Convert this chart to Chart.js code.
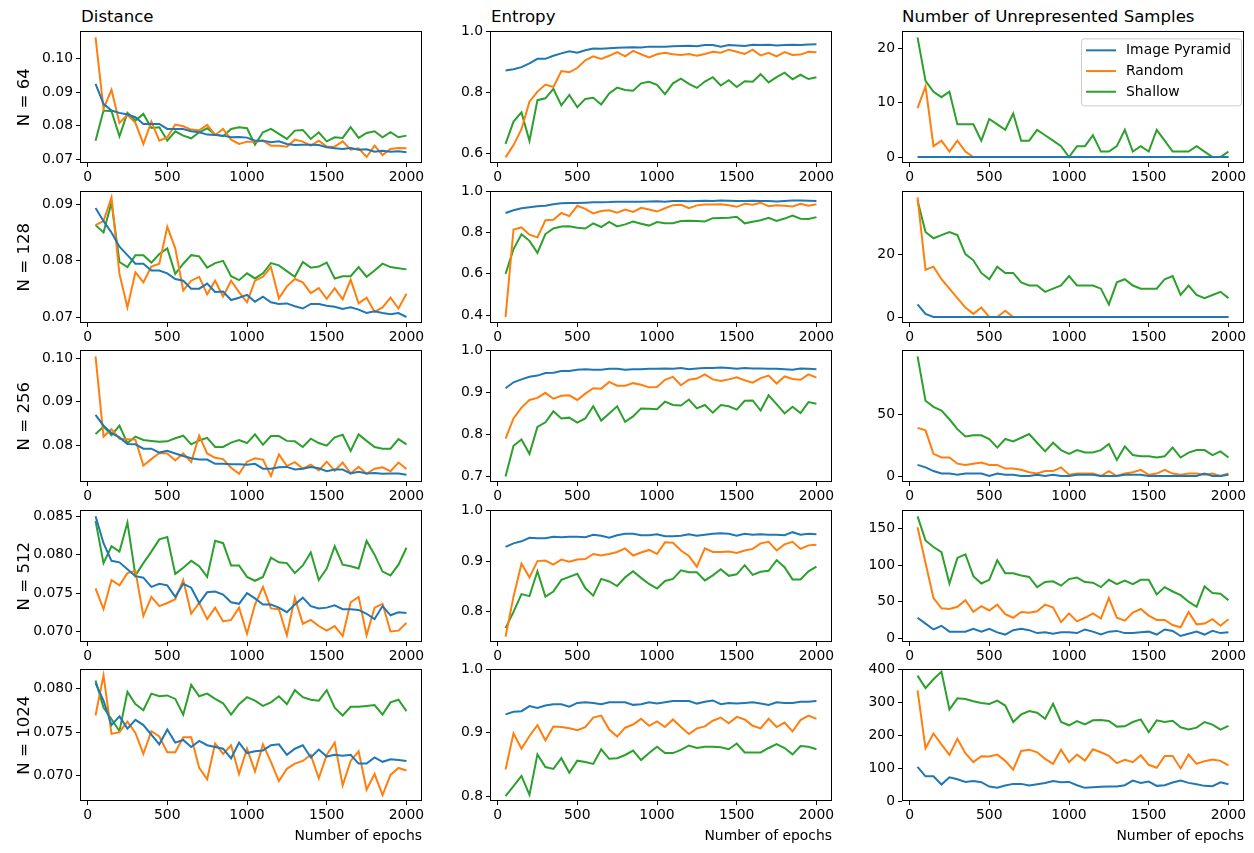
<!DOCTYPE html>
<html>
<head>
<meta charset="utf-8">
<script src="https://cdn.jsdelivr.net/npm/chart.js@4.4.1/dist/chart.umd.min.js"></script>
<style>
  body { margin: 0; background: #fff; overflow: hidden; width: 1254px; height: 853px; position: relative; font-family: 'DejaVu Sans', sans-serif; }
  canvas { position: absolute; }
  .coltitle { position: absolute; font-size: 16.6px; line-height: 16px; color: #000; white-space: nowrap; }
</style>
</head>
<body>
<div class="coltitle" style="left:81px;top:8.5px">Distance</div>
<div class="coltitle" style="left:491px;top:8.5px">Entropy</div>
<div class="coltitle" style="left:902px;top:8.5px">Number of Unrepresented Samples</div>
<script>
// epochs on the x axis
var epochs = [50, 100, 150, 200, 250, 300, 350, 400, 450, 500, 550, 600, 650, 700, 750, 800, 850, 900, 950, 1000,
  1050, 1100, 1150, 1200, 1250, 1300, 1350, 1400, 1450, 1500, 1550, 1600, 1650, 1700, 1750, 1800, 1850, 1900, 1950, 2000];
var xTicks = [0, 500, 1000, 1500, 2000];

var seriesNames = ['Image Pyramid', 'Random', 'Shallow'];
var seriesColors = ['#1f77b4', '#ff7f0e', '#2ca02c'];

// ---- Distance ----
var dist64_pyr = [0.0925,0.0865,0.0845,0.0838,0.0833,0.0825,0.0805,0.0805,0.0805,0.0790,0.0790,0.0790,0.0783,0.0780,0.0773,0.0772,0.0770,0.0765,0.0766,0.0764,0.0755,0.0755,0.0750,0.0753,0.0745,0.0742,0.0743,0.0743,0.0742,0.0735,0.0732,0.0730,0.0733,0.0728,0.0729,0.0722,0.0725,0.0722,0.0723,0.0720];
var dist64_rnd = [0.1064,0.0850,0.0907,0.0808,0.0832,0.0808,0.0745,0.0812,0.0755,0.0765,0.0803,0.0798,0.0788,0.0786,0.0802,0.0772,0.0790,0.0758,0.0745,0.0752,0.0752,0.0755,0.0740,0.0740,0.0737,0.0758,0.0752,0.0740,0.0755,0.0737,0.0737,0.0753,0.0728,0.0732,0.0706,0.0740,0.0712,0.0730,0.0733,0.0732];
var dist64_sha = [0.0755,0.0845,0.0843,0.0768,0.0838,0.0815,0.0835,0.0793,0.0795,0.0755,0.0783,0.0770,0.0762,0.0780,0.0792,0.0773,0.0768,0.0790,0.0795,0.0792,0.0743,0.0780,0.0790,0.0775,0.0760,0.0785,0.0787,0.0760,0.0780,0.0753,0.0765,0.0763,0.0795,0.0763,0.0778,0.0783,0.0765,0.0780,0.0765,0.0770];

var dist128_pyr = [0.0893,0.0870,0.0850,0.0825,0.0810,0.0795,0.0795,0.0783,0.0783,0.0778,0.0768,0.0765,0.0751,0.0751,0.0760,0.0745,0.0746,0.0731,0.0735,0.0740,0.0728,0.0737,0.0727,0.0724,0.0725,0.0720,0.0716,0.0724,0.0724,0.0721,0.0719,0.0715,0.0718,0.0714,0.0708,0.0711,0.0708,0.0706,0.0708,0.0701];
var dist128_rnd = [0.0863,0.0870,0.0912,0.0777,0.0718,0.0780,0.0762,0.0790,0.0795,0.0860,0.0822,0.0748,0.0765,0.0772,0.0741,0.0765,0.0737,0.0765,0.0745,0.0727,0.0765,0.0772,0.0789,0.0734,0.0755,0.0768,0.0762,0.0743,0.0752,0.0733,0.0752,0.0732,0.0767,0.0725,0.0735,0.0710,0.0718,0.0735,0.0716,0.0742];
var dist128_sha = [0.0863,0.0850,0.0903,0.0798,0.0789,0.0810,0.0810,0.0797,0.0812,0.0822,0.0777,0.0795,0.0810,0.0808,0.0788,0.0796,0.0800,0.0773,0.0766,0.0778,0.0769,0.0778,0.0796,0.0792,0.0782,0.0772,0.0798,0.0788,0.0790,0.0797,0.0769,0.0773,0.0773,0.0789,0.0772,0.0783,0.0795,0.0789,0.0787,0.0785];

var dist256_pyr = [0.0870,0.0845,0.0828,0.0818,0.0803,0.0802,0.0792,0.0792,0.0783,0.0787,0.0781,0.0775,0.0770,0.0767,0.0767,0.0757,0.0757,0.0756,0.0756,0.0755,0.0757,0.0746,0.0746,0.0749,0.0750,0.0744,0.0746,0.0750,0.0747,0.0740,0.0744,0.0744,0.0735,0.0739,0.0735,0.0736,0.0734,0.0735,0.0735,0.0732];
var dist256_rnd = [0.1005,0.0820,0.0837,0.0815,0.0814,0.0813,0.0753,0.0768,0.0782,0.0781,0.0765,0.0781,0.0761,0.0822,0.0781,0.0771,0.0768,0.0748,0.0734,0.0762,0.0770,0.0767,0.0729,0.0779,0.0752,0.0761,0.0746,0.0755,0.0742,0.0762,0.0741,0.0760,0.0735,0.0750,0.0734,0.0746,0.0749,0.0740,0.0760,0.0745];
var dist256_sha = [0.0826,0.0843,0.0823,0.0845,0.0805,0.0820,0.0812,0.0810,0.0808,0.0809,0.0816,0.0822,0.0802,0.0811,0.0817,0.0796,0.0796,0.0806,0.0812,0.0805,0.0825,0.0801,0.0821,0.0821,0.0810,0.0809,0.0796,0.0815,0.0805,0.0799,0.0818,0.0824,0.0787,0.0825,0.0810,0.0796,0.0792,0.0792,0.0814,0.0802];

var dist512_pyr = [0.0850,0.0815,0.0792,0.0790,0.0781,0.0772,0.0770,0.0758,0.0762,0.0760,0.0745,0.0762,0.0757,0.0737,0.0751,0.0752,0.0748,0.0738,0.0736,0.0750,0.0743,0.0735,0.0735,0.0731,0.0725,0.0735,0.0744,0.0733,0.0730,0.0731,0.0734,0.0729,0.0729,0.0728,0.0723,0.0716,0.0733,0.0721,0.0725,0.0724];
var dist512_rnd = [0.0756,0.0729,0.0767,0.0760,0.0776,0.0779,0.0720,0.0745,0.0733,0.0737,0.0742,0.0767,0.0723,0.0737,0.0716,0.0731,0.0713,0.0715,0.0731,0.0697,0.0735,0.0758,0.0730,0.0729,0.0695,0.0744,0.0710,0.0715,0.0707,0.0701,0.0707,0.0694,0.0738,0.0745,0.0695,0.0731,0.0736,0.0700,0.0701,0.0711];
var dist512_sha = [0.0844,0.0789,0.0811,0.0804,0.0842,0.0773,0.0789,0.0804,0.0820,0.0823,0.0775,0.0783,0.0792,0.0785,0.0771,0.0818,0.0815,0.0786,0.0786,0.0771,0.0766,0.0771,0.0796,0.0790,0.0789,0.0776,0.0786,0.0803,0.0767,0.0782,0.0811,0.0787,0.0785,0.0782,0.0818,0.0800,0.0778,0.0773,0.0787,0.0809];

var dist1024_pyr = [0.0806,0.0786,0.0758,0.0768,0.0754,0.0764,0.0758,0.0747,0.0736,0.0753,0.0738,0.0741,0.0733,0.0740,0.0735,0.0733,0.0731,0.0720,0.0738,0.0726,0.0728,0.0729,0.0735,0.0736,0.0724,0.0731,0.0735,0.0721,0.0730,0.0722,0.0724,0.0723,0.0724,0.0714,0.0714,0.0721,0.0716,0.0719,0.0718,0.0717];
var dist1024_rnd = [0.0769,0.0815,0.0748,0.0750,0.0762,0.0749,0.0725,0.0751,0.0745,0.0727,0.0727,0.0744,0.0744,0.0709,0.0696,0.0737,0.0725,0.0735,0.0702,0.0731,0.0705,0.0736,0.0716,0.0694,0.0708,0.0714,0.0717,0.0724,0.0697,0.0724,0.0738,0.0689,0.0717,0.0728,0.0684,0.0702,0.0678,0.0701,0.0709,0.0706];
var dist1024_sha = [0.0809,0.0778,0.0765,0.0751,0.0796,0.0782,0.0775,0.0794,0.0791,0.0792,0.0788,0.0770,0.0804,0.0791,0.0794,0.0788,0.0783,0.0770,0.0782,0.0790,0.0786,0.0780,0.0784,0.0791,0.0782,0.0798,0.0790,0.0787,0.0786,0.0798,0.0778,0.0769,0.0779,0.0779,0.0780,0.0781,0.0770,0.0784,0.0787,0.0774];

// ---- Entropy ----
var ent64_pyr = [0.872,0.876,0.883,0.895,0.910,0.910,0.920,0.928,0.935,0.930,0.938,0.944,0.943,0.945,0.946,0.947,0.948,0.947,0.950,0.950,0.950,0.951,0.952,0.953,0.951,0.955,0.955,0.950,0.955,0.954,0.952,0.956,0.955,0.956,0.954,0.955,0.956,0.955,0.957,0.958];
var ent64_rnd = [0.588,0.628,0.680,0.770,0.803,0.826,0.818,0.870,0.866,0.880,0.905,0.918,0.910,0.920,0.932,0.918,0.936,0.925,0.915,0.925,0.930,0.925,0.923,0.926,0.920,0.926,0.933,0.930,0.940,0.933,0.926,0.940,0.921,0.930,0.918,0.932,0.923,0.924,0.933,0.932];
var ent64_sha = [0.632,0.705,0.735,0.642,0.775,0.781,0.812,0.758,0.792,0.752,0.779,0.783,0.761,0.797,0.816,0.808,0.806,0.830,0.835,0.825,0.795,0.830,0.845,0.828,0.815,0.836,0.850,0.823,0.840,0.818,0.837,0.835,0.860,0.833,0.850,0.865,0.843,0.858,0.844,0.850];

var ent128_pyr = [0.895,0.908,0.918,0.923,0.928,0.930,0.937,0.942,0.943,0.943,0.945,0.947,0.947,0.948,0.950,0.950,0.949,0.950,0.951,0.952,0.950,0.953,0.953,0.952,0.953,0.954,0.953,0.955,0.954,0.953,0.953,0.954,0.953,0.953,0.951,0.953,0.955,0.955,0.954,0.953];
var ent128_rnd = [0.390,0.815,0.825,0.790,0.777,0.860,0.862,0.895,0.880,0.930,0.915,0.893,0.905,0.908,0.897,0.912,0.900,0.920,0.912,0.902,0.918,0.933,0.935,0.918,0.932,0.936,0.936,0.937,0.933,0.925,0.940,0.935,0.945,0.928,0.932,0.930,0.927,0.940,0.930,0.937];
var ent128_sha = [0.600,0.720,0.792,0.760,0.702,0.793,0.820,0.830,0.831,0.823,0.820,0.845,0.827,0.852,0.830,0.840,0.854,0.843,0.834,0.851,0.845,0.845,0.856,0.857,0.856,0.854,0.870,0.871,0.872,0.877,0.845,0.853,0.860,0.872,0.857,0.868,0.882,0.867,0.866,0.875];

var ent256_pyr = [0.910,0.924,0.931,0.937,0.940,0.946,0.947,0.951,0.951,0.954,0.955,0.954,0.954,0.956,0.956,0.954,0.955,0.955,0.956,0.956,0.957,0.956,0.958,0.955,0.957,0.958,0.958,0.959,0.958,0.956,0.958,0.957,0.957,0.956,0.956,0.955,0.954,0.957,0.956,0.955];
var ent256_rnd = [0.790,0.838,0.864,0.882,0.887,0.899,0.885,0.892,0.893,0.882,0.897,0.910,0.909,0.925,0.916,0.916,0.922,0.918,0.912,0.913,0.930,0.937,0.917,0.930,0.933,0.943,0.931,0.927,0.931,0.936,0.929,0.923,0.934,0.940,0.921,0.938,0.932,0.930,0.943,0.935];
var ent256_sha = [0.700,0.773,0.788,0.754,0.818,0.829,0.855,0.838,0.840,0.828,0.838,0.867,0.833,0.850,0.867,0.830,0.843,0.862,0.861,0.860,0.878,0.870,0.869,0.883,0.862,0.870,0.852,0.870,0.867,0.859,0.880,0.881,0.857,0.893,0.872,0.850,0.866,0.851,0.877,0.873];

var ent512_pyr = [0.928,0.935,0.939,0.946,0.945,0.945,0.948,0.947,0.948,0.948,0.947,0.952,0.950,0.946,0.951,0.954,0.954,0.951,0.951,0.953,0.949,0.949,0.950,0.953,0.950,0.952,0.954,0.955,0.954,0.950,0.954,0.952,0.953,0.952,0.952,0.951,0.957,0.952,0.954,0.953];
var ent512_rnd = [0.751,0.830,0.895,0.868,0.900,0.901,0.893,0.903,0.899,0.903,0.904,0.914,0.911,0.914,0.918,0.925,0.911,0.917,0.922,0.914,0.937,0.936,0.921,0.910,0.889,0.925,0.918,0.918,0.919,0.916,0.921,0.924,0.935,0.938,0.921,0.933,0.938,0.924,0.931,0.932];
var ent512_sha = [0.768,0.800,0.835,0.831,0.880,0.830,0.840,0.863,0.869,0.875,0.847,0.832,0.865,0.860,0.851,0.868,0.880,0.867,0.855,0.846,0.861,0.865,0.882,0.878,0.878,0.862,0.872,0.884,0.871,0.874,0.892,0.873,0.879,0.881,0.902,0.888,0.864,0.864,0.880,0.889];

var ent1024_pyr = [0.929,0.933,0.934,0.942,0.939,0.943,0.945,0.945,0.941,0.947,0.948,0.947,0.945,0.948,0.948,0.948,0.944,0.945,0.948,0.946,0.948,0.950,0.950,0.950,0.946,0.949,0.951,0.945,0.947,0.946,0.947,0.948,0.946,0.944,0.948,0.947,0.947,0.949,0.949,0.950];
var ent1024_rnd = [0.842,0.899,0.875,0.895,0.912,0.888,0.910,0.909,0.907,0.904,0.909,0.924,0.927,0.905,0.894,0.908,0.913,0.922,0.911,0.918,0.909,0.921,0.909,0.898,0.907,0.910,0.919,0.924,0.915,0.925,0.921,0.911,0.907,0.922,0.909,0.916,0.902,0.920,0.927,0.922];
var ent1024_sha = [0.800,0.816,0.832,0.802,0.866,0.846,0.843,0.860,0.837,0.856,0.854,0.851,0.874,0.859,0.860,0.865,0.872,0.857,0.868,0.878,0.868,0.868,0.873,0.880,0.876,0.878,0.878,0.877,0.874,0.883,0.869,0.869,0.869,0.876,0.882,0.876,0.866,0.879,0.878,0.874];

// ---- Number of unrepresented samples ----
var unr64_pyr = [0,0,0,0,0,0,0,0,0,0,0,0,0,0,0,0,0,0,0,0,0,0,0,0,0,0,0,0,0,0,0,0,0,0,0,0,0,0,0,0];
var unr64_rnd = [9,13,2,3,1,3,1,0,0,0,0,0,0,0,0,0,0,0,0,0,0,0,0,0,0,0,0,0,0,0,0,0,0,0,0,0,0,0,0,0];
var unr64_sha = [22,14,12,11,12,6,6,6,3,7,6,5,8,3,3,5,4,3,2,0,2,2,4,1,1,2,5,1,2,1,5,3,1,1,1,2,1,0,0,1];

var unr128_pyr = [4,1,0,0,0,0,0,0,0,0,0,0,0,0,0,0,0,0,0,0,0,0,0,0,0,0,0,0,0,0,0,0,0,0,0,0,0,0,0,0];
var unr128_rnd = [38,15,16,12,9,6,3,1,3,0,0,2,0,0,0,0,0,0,0,0,0,0,0,0,0,0,0,0,0,0,0,0,0,0,0,0,0,0,0,0];
var unr128_sha = [37,27,25,26,27,26,20,18,14,12,16,14,14,11,10,10,8,9,10,13,10,10,10,9,4,11,12,10,9,9,9,12,13,7,10,7,6,7,8,6];

var unr256_pyr = [9,7,4,2,2,1,2,2,2,0,2,1,1,0,0,1,0,1,0,0,1,1,1,0,0,0,1,1,1,0,0,0,0,0,0,0,2,0,0,1];
var unr256_rnd = [39,37,18,15,15,10,9,10,11,9,9,6,6,5,3,2,4,4,7,1,2,2,2,0,4,0,2,3,5,1,2,5,2,1,2,2,1,2,0,2];
var unr256_sha = [97,61,56,53,46,38,32,33,33,30,23,30,28,31,34,27,20,27,21,18,21,19,19,21,26,13,24,17,16,16,15,16,23,15,19,21,21,17,20,15];

var unr512_pyr = [28,20,12,17,9,9,9,13,9,13,8,5,11,13,11,7,8,6,8,8,7,12,9,5,9,10,7,7,8,9,5,12,10,3,6,9,5,10,7,8];
var unr512_rnd = [152,103,55,41,40,43,52,36,44,38,46,33,28,36,35,37,46,42,22,34,23,28,34,27,55,28,24,35,40,31,25,25,18,15,36,19,20,26,17,26];
var unr512_sha = [167,134,125,118,75,110,115,85,75,80,107,89,89,86,84,70,77,78,72,81,83,77,76,70,80,74,79,74,80,80,60,70,64,59,50,43,71,62,61,52];

var unr1024_pyr = [104,75,75,50,72,66,58,61,57,44,40,47,52,52,47,51,55,61,57,58,48,40,42,43,44,44,48,62,55,59,46,48,56,62,55,51,46,45,57,51];
var unr1024_rnd = [336,160,205,172,140,189,145,118,136,135,141,122,95,152,156,148,128,113,156,118,141,123,157,148,137,115,125,118,139,110,101,137,137,99,141,113,121,126,122,108];
var unr1024_sha = [381,343,370,393,278,312,310,303,298,295,305,290,240,263,273,268,250,295,240,230,243,233,245,246,243,226,227,240,248,209,245,240,244,224,217,223,240,232,217,228];

// y tick labels per panel
var distTicks = [['0.07','0.08','0.09','0.10'], ['0.07','0.08','0.09'], ['0.08','0.09','0.10'], ['0.070','0.075','0.080','0.085'], ['0.070','0.075','0.080']];
var entTicks = [['0.6','0.8','1.0'], ['0.4','0.6','0.8','1.0'], ['0.7','0.8','0.9','1.0'], ['0.8','0.9','1.0'], ['0.8','0.9','1.0']];
var unrTicks = [['0','10','20'], ['0','20'], ['0','50'], ['0','50','100','150'], ['0','100','200','300','400']];
var rowLabels = ['N = 64', 'N = 128', 'N = 256', 'N = 512', 'N = 1024'];

var panelData = [
  [[dist64_pyr, dist64_rnd, dist64_sha], [ent64_pyr, ent64_rnd, ent64_sha], [unr64_pyr, unr64_rnd, unr64_sha]],
  [[dist128_pyr, dist128_rnd, dist128_sha], [ent128_pyr, ent128_rnd, ent128_sha], [unr128_pyr, unr128_rnd, unr128_sha]],
  [[dist256_pyr, dist256_rnd, dist256_sha], [ent256_pyr, ent256_rnd, ent256_sha], [unr256_pyr, unr256_rnd, unr256_sha]],
  [[dist512_pyr, dist512_rnd, dist512_sha], [ent512_pyr, ent512_rnd, ent512_sha], [unr512_pyr, unr512_rnd, unr512_sha]],
  [[dist1024_pyr, dist1024_rnd, dist1024_sha], [ent1024_pyr, ent1024_rnd, ent1024_sha], [unr1024_pyr, unr1024_rnd, unr1024_sha]]
];

// layout (px)
var colLeft = [80, 490, 902];
var rowTop = [30, 189.5, 349, 508.5, 668];
var plotW = 342, plotH = 133;
var yAxisW = 80, padTop = 10, padRight = 12;

var tickFont = { family: 'DejaVu Sans', size: 13.9 };

// box around each plot, like matplotlib spines
var framePlugin = {
  id: 'frame',
  afterDraw: function (chart) {
    var a = chart.chartArea, ctx = chart.ctx;
    ctx.save();
    ctx.strokeStyle = '#000';
    ctx.lineWidth = 1;
    ctx.strokeRect(Math.round(a.left) + 0.5, Math.round(a.top) + 0.5, Math.round(a.right - a.left) - 1, Math.round(a.bottom - a.top) - 1);
    ctx.restore();
  }
};

// legend drawn inside the top-right panel
var legendPlugin = {
  id: 'innerLegend',
  afterDatasetsDraw: function (chart) {
    var a = chart.chartArea, ctx = chart.ctx;
    var x0 = a.right - 163, y0 = a.top + 7;
    ctx.save();
    ctx.beginPath();
    ctx.roundRect(x0 + 0.5, y0 + 0.5, 160, 67, 3);
    ctx.fillStyle = 'rgba(255,255,255,0.8)';
    ctx.fill();
    ctx.strokeStyle = '#cccccc';
    ctx.lineWidth = 1;
    ctx.stroke();
    ctx.font = '13.9px "DejaVu Sans"';
    ctx.textBaseline = 'middle';
    chart.data.datasets.forEach(function (ds, i) {
      var y = y0 + 12 + i * 20.7;
      ctx.strokeStyle = ds.borderColor;
      ctx.lineWidth = 2;
      ctx.beginPath();
      ctx.moveTo(x0 + 5, y);
      ctx.lineTo(x0 + 35, y);
      ctx.stroke();
      ctx.fillStyle = '#000';
      ctx.fillText(ds.label, x0 + 45, y + 0.5);
    });
    ctx.restore();
  }
};

function yRange(series, fixedMin, fixedMax) {
  var all = [].concat.apply([], series);
  var lo = Math.min.apply(null, all), hi = Math.max.apply(null, all);
  var m = (hi - lo) * 0.05;
  return [fixedMin !== undefined ? fixedMin : lo - m, fixedMax !== undefined ? fixedMax : hi + m];
}

for (var r = 0; r < 5; r++) {
  for (var c = 0; c < 3; c++) {
    (function (r, c) {
      var series = panelData[r][c];
      var tickStr = [distTicks, entTicks, unrTicks][c][r];
      var tickVals = tickStr.map(parseFloat);
      var range;
      if (c === 1) range = yRange(series, undefined, 1.0);
      else if (c === 2 && r === 4) range = yRange(series, 0, 400);
      else range = yRange(series);

      var lastRow = r === 4;
      var xH = lastRow ? 48 : 30;

      var canvas = document.createElement('canvas');
      canvas.width = yAxisW + plotW + padRight;
      canvas.height = padTop + plotH + xH;
      canvas.style.left = (colLeft[c] - yAxisW) + 'px';
      canvas.style.top = (rowTop[r] - padTop) + 'px';
      document.body.appendChild(canvas);

      var datasets = series.map(function (vals, i) {
        return {
          label: seriesNames[i],
          data: epochs.map(function (e, k) { return { x: e, y: vals[k] }; }),
          borderColor: seriesColors[i],
          backgroundColor: seriesColors[i],
          borderWidth: 2,
          pointRadius: 0,
          fill: false,
          tension: 0
        };
      });

      var plugins = [framePlugin];
      if (r === 0 && c === 2) plugins.push(legendPlugin);

      new Chart(canvas.getContext('2d'), {
        type: 'line',
        data: { datasets: datasets },
        options: {
          responsive: false,
          animation: false,
          events: [],
          layout: { padding: { top: padTop, right: padRight, left: 0, bottom: 0 } },
          plugins: { legend: { display: false }, tooltip: { enabled: false } },
          scales: {
            x: {
              type: 'linear',
              min: -47.5,
              max: 2097.5,
              afterBuildTicks: function (axis) { axis.ticks = xTicks.map(function (v) { return { value: v }; }); },
              afterFit: function (axis) { axis.height = xH; },
              grid: { drawOnChartArea: false, drawTicks: true, tickLength: 4, color: '#000' },
              border: { display: false },
              ticks: { font: tickFont, color: '#000', padding: 2.5, maxRotation: 0, autoSkip: false,
                callback: function (v) { return String(v); } },
              title: { display: lastRow, text: 'Number of epochs', align: 'end', color: '#000',
                font: { family: 'DejaVu Sans', size: 13.9 }, padding: { top: 0, bottom: 4 } }
            },
            y: {
              type: 'linear',
              min: range[0],
              max: range[1],
              afterBuildTicks: function (axis) { axis.ticks = tickVals.map(function (v) { return { value: v }; }); },
              afterFit: function (axis) { axis.width = yAxisW; },
              grid: { drawOnChartArea: false, drawTicks: true, tickLength: 4, color: '#000' },
              border: { display: false },
              ticks: { font: tickFont, color: '#000', padding: 3, autoSkip: false,
                callback: function (v, i) { return tickStr[i]; } },
              title: { display: c === 0, text: rowLabels[r], color: '#000',
                font: { family: 'DejaVu Sans', size: 16.6 }, padding: { top: 15, bottom: 0 } }
            }
          }
        },
        plugins: plugins
      });
    })(r, c);
  }
}
</script>
</body>
</html>
